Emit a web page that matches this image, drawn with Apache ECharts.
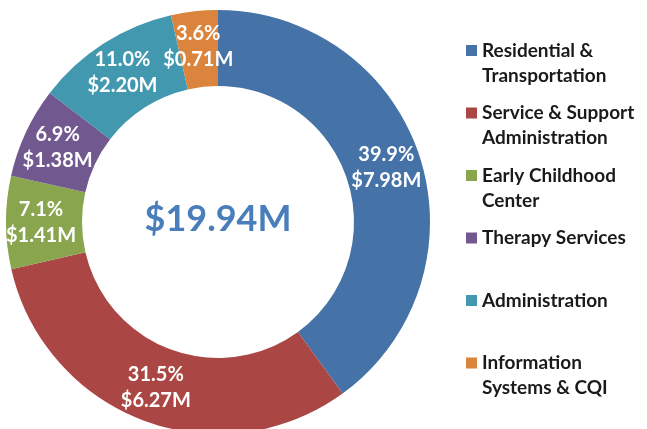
<!DOCTYPE html>
<html>
<head>
<meta charset="utf-8">
<script src="https://cdn.jsdelivr.net/npm/echarts@6/dist/echarts.min.js"></script>
<style>
html,body{margin:0;padding:0;background:#fff;}
#chart{width:647px;height:429px;}
</style>
</head>
<body>
<div id="chart"></div>
<script>
var categories = ['Residential &\nTransportation', 'Service & Support\nAdministration', 'Early Childhood\nCenter', 'Therapy Services', 'Administration', 'Information\nSystems & CQI'];
var values = [7.98, 6.27, 1.41, 1.38, 2.20, 0.71];
var percents = ['39.9%', '31.5%', '7.1%', '6.9%', '11.0%', '3.6%'];
var colors = ['#4572A7', '#AA4643', '#89A54E', '#71588F', '#4198AF', '#DB843D'];
var totalLabel = '$19.94M';

var chart = echarts.init(document.getElementById('chart'), null, {renderer: 'canvas'});
var FONT = 'Lato';

var data = categories.map(function (c, i) {
  return {name: c, value: values[i], itemStyle: {color: colors[i]}};
});

var legendData = categories.map(function (c) {
  var twoLines = c.indexOf('\n') >= 0;
  return {name: c, textStyle: {padding: twoLines ? [25, 0, 0, 0] : [25, 0, 25, 0]}};
});

chart.setOption({
  animation: false,
  graphic: [{
    type: 'text', x: 218, y: 219,
    style: {text: totalLabel, align: 'center', verticalAlign: 'middle', fill: '#4A7EBB',
      font: 'bold 36px ' + FONT}
  }],
  legend: {
    orient: 'vertical', left: 466, top: 13, padding: 0,
    itemWidth: 11, itemHeight: 11, itemGap: -12.5,
    icon: 'rect',
    data: legendData,
    formatter: function (name) {
      return name.split('\n').map(function (s) { return '{a|' + s + '}'; }).join('\n');
    },
    textStyle: {
      backgroundColor: 'rgba(0,0,0,0)',
      rich: {a: {fontFamily: FONT, fontWeight: 'bold', fontSize: 19, color: '#1a1a1a', lineHeight: 25}}
    },
    selectedMode: false
  },
  series: [{
    type: 'pie',
    center: [218, 222],
    radius: [136, 212],
    startAngle: 90,
    clockwise: true,
    avoidLabelOverlap: false,
    silent: true,
    label: {
      show: true, position: 'inside', color: '#fff', fontFamily: FONT, fontWeight: 'bold',
      fontSize: 20, lineHeight: 26,
      formatter: function (p) { return percents[p.dataIndex] + '\n$' + values[p.dataIndex].toFixed(2) + 'M'; }
    },
    labelLine: {show: false},
    itemStyle: {borderWidth: 0},
    emphasis: {disabled: true},
    data: data
  }]
});
</script>
</body>
</html>
